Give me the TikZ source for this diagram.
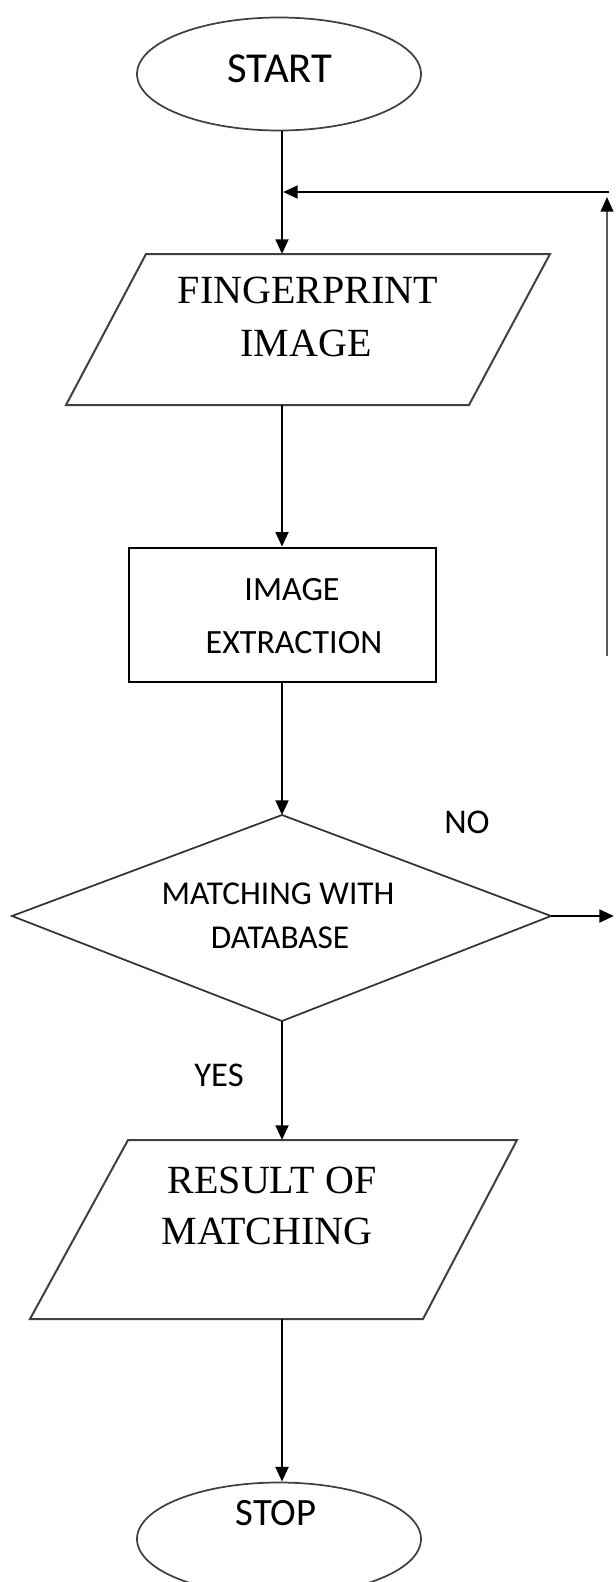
\documentclass[tikz,border=0pt]{standalone}
\usepackage{fontspec}
\setmainfont{Liberation Serif}
\newfontfamily\calib{Carlito}
\usetikzlibrary{arrows.meta,shapes.geometric,calc}
\begin{document}
\begin{tikzpicture}[x=0.75pt,y=-0.75pt,
  conn/.style={line width=2.1pt, -{Triangle[length=11pt,width=9.5pt]}},
  outline/.style={line width=1.5pt, draw=black!75},
  term/.style={ellipse, draw=black!75, line width=1.3pt, minimum width=213pt, minimum height=84.75pt, inner sep=0pt},
  procbox/.style={rectangle, draw=black, line width=2pt, minimum width=230.25pt, minimum height=100.5pt, inner sep=0pt},
  seriftext/.style={font=\fontsize{30}{36}\selectfont, inner sep=0pt},
  sanstext/.style={font=\calib\fontsize{25.5}{30}\selectfont, inner sep=0pt},
  labeltext/.style={font=\calib\fontsize{26}{30}\selectfont, inner sep=0pt}
]
\useasboundingbox (0,0) rectangle (615,1582);

% START
\node[term] (start) at (279,74) {};
\node[sanstext, font=\calib\fontsize{32}{36}\selectfont] (starttxt) at (280,69) {START};

% Fingerprint image parallelogram
\coordinate (p1tl) at (146,254);
\coordinate (p1tr) at (550,254);
\coordinate (p1br) at (469,405);
\coordinate (p1bl) at (66,405);
\coordinate (p1top) at (282,254);
\coordinate (p1bot) at (282,405);
\draw[outline] (p1tl) -- (p1tr) -- (p1br) -- (p1bl) -- cycle;
\node[seriftext] (fp1) at (308,290) {FINGERPRINT};
\node[seriftext] (fp2) at (306,343) {IMAGE};

% Image extraction box
\node[procbox] (rect) at (282.5,615) {};
\node[sanstext] (ie1) at (292,590) {IMAGE};
\node[sanstext] (ie2) at (294,643) {EXTRACTION};

% Decision diamond
\coordinate (dtop) at (282,815);
\coordinate (dright) at (551,916);
\coordinate (dbot) at (282,1021);
\coordinate (dleft) at (12,916);
\draw[outline, draw=black!80, line width=1.3pt] (dtop) -- (dright) -- (dbot) -- (dleft) -- cycle;
\node[sanstext, font=\calib\fontsize{25}{30}\selectfont] (mw1) at (278,894) {MATCHING WITH};
\node[sanstext, font=\calib\fontsize{25}{30}\selectfont] (mw2) at (280,938) {DATABASE};

% Result parallelogram
\coordinate (p2tl) at (128,1140);
\coordinate (p2tr) at (517,1140);
\coordinate (p2br) at (423,1319);
\coordinate (p2bl) at (30,1319);
\coordinate (p2top) at (282,1140);
\coordinate (p2bot) at (282,1319);
\draw[outline] (p2tl) -- (p2tr) -- (p2br) -- (p2bl) -- cycle;
\node[seriftext] (rm1) at (272,1180) {RESULT OF};
\node[seriftext] (rm2) at (267,1231) {MATCHING};

% STOP
\node[term] (stop) at (279,1539) {};
\node[sanstext, font=\calib\fontsize{29}{34}\selectfont] (stoptxt) at (276,1513) {STOP};

% Labels
\node[labeltext] (nolbl) at (467,822) {NO};
\node[labeltext] (yeslbl) at (219,1075) {YES};

% Connectors
\draw[conn] (start.south -| p1top) -- (p1top);
\draw[conn] (p1bot) -- (rect.north -| p1bot);
\draw[conn] (rect.south -| dtop) -- (dtop);
\draw[conn] (dbot) -- (p2top);
\draw[conn] (p2bot) -- (stop.north -| p2bot);

\coordinate (noend) at (614,916);
\draw[conn] (dright) -- (noend);

\coordinate (fbbot) at (607,656);
\coordinate (fbtip) at (607,197);
\coordinate (fbcorner) at (609,192);
\coordinate (fbend) at (283,192);
\draw[line width=1.6pt, draw=black!65, -{Triangle[length=11pt,width=9.5pt,color=black]}] (fbbot) -- (fbtip);
\draw[conn] (fbcorner) -- (fbend);
\end{tikzpicture}
\end{document}
